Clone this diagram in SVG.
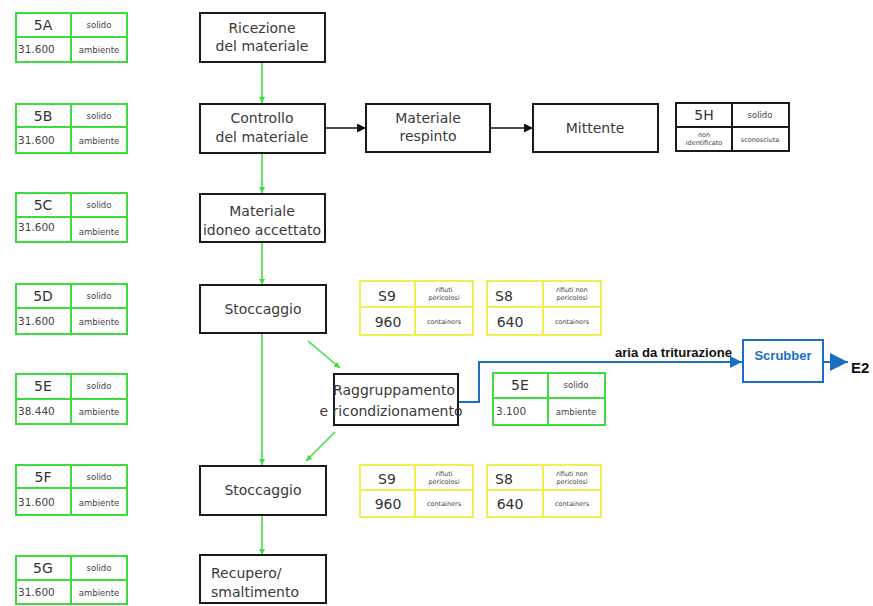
<svg xmlns="http://www.w3.org/2000/svg" width="873" height="606" viewBox="0 0 873 606">
  <style>
    .box { fill: #ffffff; stroke: #1a1a1a; stroke-width: 2; }
    .lbl { font-family: "DejaVu Sans", "Liberation Sans", sans-serif; font-size: 14px; fill: #3a3a3a; text-anchor: middle; }
    .lbl.left { text-anchor: start; }
    .tg rect, .tg line { stroke: #3fdc3f; stroke-width: 2; fill: none; }
    .ty rect, .ty line { stroke: #f0f050; stroke-width: 2; fill: none; }
    .tk rect, .tk line { stroke: #1a1a1a; stroke-width: 2; fill: none; }
    .id { font-family: "DejaVu Sans", "Liberation Sans", sans-serif; font-size: 14px; fill: #333333; text-anchor: middle; }
    .sm { font-family: "DejaVu Sans", "Liberation Sans", sans-serif; font-size: 8.5px; fill: #444444; text-anchor: middle; }
    .xs { font-family: "DejaVu Sans", "Liberation Sans", sans-serif; font-size: 6.5px; fill: #444444; text-anchor: middle; }
    .num { font-family: "DejaVu Sans", "Liberation Sans", sans-serif; font-size: 10.5px; fill: #444444; }
    .gflow { stroke: #44dd44; stroke-width: 1.6; fill: none; marker-end: url(#ag); }
    .kflow { stroke: #111111; stroke-width: 1.6; fill: none; marker-end: url(#ak); }
    .bflow { stroke: #1a6fc4; stroke-width: 2; fill: none; }
  </style>
  <defs>
    <marker id="ag" viewBox="0 0 10 10" refX="10" refY="5" markerWidth="6" markerHeight="6" orient="auto" markerUnits="userSpaceOnUse">
      <path d="M0,0 L10,5 L0,10 z" fill="#44dd44"/>
    </marker>
    <marker id="ak" viewBox="0 0 10 10" refX="10" refY="5" markerWidth="9" markerHeight="9" orient="auto" markerUnits="userSpaceOnUse">
      <path d="M0,0 L10,5 L0,10 z" fill="#111111"/>
    </marker>
    <marker id="ab" viewBox="0 0 10 10" refX="10" refY="5" markerWidth="12" markerHeight="12" orient="auto" markerUnits="userSpaceOnUse">
      <path d="M0,0 L10,5 L0,10 z" fill="#1a6fc4"/>
    </marker>
    <marker id="ab2" viewBox="0 0 10 10" refX="10" refY="5" markerWidth="18" markerHeight="18" orient="auto" markerUnits="userSpaceOnUse">
      <path d="M0,0 L10,5 L0,10 z" fill="#1a6fc4"/>
    </marker>
  </defs>

  <rect width="873" height="606" fill="#ffffff"/>

  <!-- connectors -->
  <g id="connectors">
    <line class="gflow" x1="262" y1="62" x2="262" y2="103"/>
    <line class="gflow" x1="262" y1="153" x2="262" y2="193"/>
    <line class="gflow" x1="262" y1="242" x2="262" y2="285"/>
    <line class="gflow" x1="262" y1="333" x2="262" y2="465"/>
    <line class="gflow" x1="262" y1="515" x2="262" y2="555"/>
    <line class="gflow" x1="308" y1="341" x2="340" y2="368"/>
    <line class="gflow" x1="335" y1="432" x2="306" y2="461"/>
    <line class="kflow" x1="325" y1="128" x2="366" y2="128"/>
    <line class="kflow" x1="490" y1="128" x2="533" y2="128"/>
    <polyline class="bflow" points="458,402 479,402 479,362 742,362" marker-end="url(#ab)"/>
    <line class="bflow" x1="823" y1="362" x2="848" y2="362" marker-end="url(#ab2)"/>
    <text x="615" y="357" font-family="Liberation Sans, Arial, sans-serif" font-size="12.5" font-weight="bold" fill="#111111" textLength="117" lengthAdjust="spacingAndGlyphs">aria da triturazione</text>
  </g>

  <!-- process steps -->
  <g id="ricezione">
    <rect class="box" x="200" y="13" width="125" height="49"/>
    <text class="lbl" x="262" y="33">Ricezione</text>
    <text class="lbl" x="262" y="51">del materiale</text>
  </g>
  <g id="controllo">
    <rect class="box" x="200" y="104" width="125" height="49"/>
    <text class="lbl" x="262" y="123">Controllo</text>
    <text class="lbl" x="262" y="142">del materiale</text>
  </g>
  <g id="idoneo">
    <rect class="box" x="200" y="194" width="125" height="48"/>
    <text class="lbl" x="262" y="216">Materiale</text>
    <text class="lbl" x="262" y="235">idoneo accettato</text>
  </g>
  <g id="stoccaggio1">
    <rect class="box" x="200" y="285" width="126" height="48"/>
    <text class="lbl" x="263" y="314">Stoccaggio</text>
  </g>
  <g id="raggruppamento">
    <rect class="box" x="334" y="374" width="124" height="51"/>
    <text class="lbl" x="394" y="395">Raggruppamento</text>
    <text class="lbl" x="391" y="416">e ricondizionamento</text>
  </g>
  <g id="stoccaggio2">
    <rect class="box" x="200" y="466" width="126" height="49"/>
    <text class="lbl" x="263" y="495">Stoccaggio</text>
  </g>
  <g id="recupero">
    <rect class="box" x="200" y="555" width="126" height="48"/>
    <text class="lbl left" x="211" y="578">Recupero/</text>
    <text class="lbl left" x="211" y="597">smaltimento</text>
  </g>
  <g id="respinto">
    <rect class="box" x="366" y="104" width="124" height="48"/>
    <text class="lbl" x="428" y="123">Materiale</text>
    <text class="lbl" x="428" y="141">respinto</text>
  </g>
  <g id="mittente">
    <rect class="box" x="533" y="104" width="125" height="48"/>
    <text class="lbl" x="595" y="133">Mittente</text>
  </g>
  <g id="scrubber">
    <rect x="743" y="340" width="80" height="42" fill="#ffffff" stroke="#1a6fc4" stroke-width="2"/>
    <text x="783" y="360" font-family="Liberation Sans, Arial, sans-serif" font-size="13" font-weight="bold" fill="#1a6fc4" text-anchor="middle">Scrubber</text>
  </g>
  <g id="e2">
    <text x="851" y="373" font-family="Liberation Sans, Arial, sans-serif" font-size="15" font-weight="bold" fill="#111111">E2</text>
  </g>

  <!-- codes tables, left column -->
  <g id="t5A" class="tg">
    <rect x="16" y="13" width="111" height="49"/><line x1="71" y1="13" x2="71" y2="62"/><line x1="16" y1="37" x2="127" y2="37"/>
    <text class="id" x="43" y="30">5A</text><text class="sm" x="99" y="28">solido</text>
    <text class="num" x="18" y="53">31.600</text><text class="sm" x="99" y="53">ambiente</text>
  </g>
  <g id="t5B" class="tg">
    <rect x="16" y="104" width="111" height="49"/><line x1="71" y1="104" x2="71" y2="153"/><line x1="16" y1="127" x2="127" y2="127"/>
    <text class="id" x="43" y="121">5B</text><text class="sm" x="99" y="119">solido</text>
    <text class="num" x="18" y="144">31.600</text><text class="sm" x="99" y="144">ambiente</text>
  </g>
  <g id="t5C" class="tg">
    <rect x="16" y="193" width="111" height="49"/><line x1="71" y1="193" x2="71" y2="242"/><line x1="16" y1="217" x2="127" y2="217"/>
    <text class="id" x="43" y="210">5C</text><text class="sm" x="99" y="208">solido</text>
    <text class="num" x="18" y="231">31.600</text><text class="sm" x="99" y="235">ambiente</text>
  </g>
  <g id="t5D" class="tg">
    <rect x="16" y="284" width="111" height="50"/><line x1="71" y1="284" x2="71" y2="334"/><line x1="16" y1="308" x2="127" y2="308"/>
    <text class="id" x="43" y="301">5D</text><text class="sm" x="99" y="299">solido</text>
    <text class="num" x="18" y="325">31.600</text><text class="sm" x="99" y="325">ambiente</text>
  </g>
  <g id="t5E" class="tg">
    <rect x="16" y="374" width="111" height="50"/><line x1="71" y1="374" x2="71" y2="424"/><line x1="16" y1="399" x2="127" y2="399"/>
    <text class="id" x="43" y="391">5E</text><text class="sm" x="99" y="389">solido</text>
    <text class="num" x="18" y="415">38.440</text><text class="sm" x="99" y="415">ambiente</text>
  </g>
  <g id="t5F" class="tg">
    <rect x="16" y="465" width="111" height="50"/><line x1="71" y1="465" x2="71" y2="515"/><line x1="16" y1="488" x2="127" y2="488"/>
    <text class="id" x="43" y="482">5F</text><text class="sm" x="99" y="480">solido</text>
    <text class="num" x="18" y="506">31.600</text><text class="sm" x="99" y="506">ambiente</text>
  </g>
  <g id="t5G" class="tg">
    <rect x="16" y="556" width="111" height="48"/><line x1="71" y1="556" x2="71" y2="604"/><line x1="16" y1="580" x2="127" y2="580"/>
    <text class="id" x="43" y="573">5G</text><text class="sm" x="99" y="571">solido</text>
    <text class="num" x="18" y="596">31.600</text><text class="sm" x="99" y="596">ambiente</text>
  </g>

  <!-- codes table, rejected material -->
  <g id="t5H" class="tk">
    <rect x="676" y="103" width="113" height="48"/><line x1="732" y1="103" x2="732" y2="151"/><line x1="676" y1="127" x2="789" y2="127"/>
    <text class="id" x="704" y="120">5H</text><text class="sm" x="760" y="118">solido</text>
    <text class="xs" x="704" y="137">non</text><text class="xs" x="704" y="145">identificato</text>
    <text class="xs" x="760" y="142">sconosciuta</text>
  </g>

  <!-- codes table, regrouping -->
  <g id="t5E2" class="tg">
    <rect x="493" y="373" width="112" height="52"/><line x1="548" y1="373" x2="548" y2="425"/><line x1="493" y1="398" x2="605" y2="398"/>
    <text class="id" x="520" y="390">5E</text><text class="sm" x="576" y="388">solido</text>
    <text class="num" x="496" y="415">3.100</text><text class="sm" x="576" y="415">ambiente</text>
  </g>

  <!-- storage capacity tables -->
  <g id="tS9a" class="ty">
    <rect x="360" y="281" width="113" height="54"/><line x1="415" y1="281" x2="415" y2="335"/><line x1="360" y1="307" x2="473" y2="307"/>
    <text class="id" x="387" y="301">S9</text><text class="xs" x="444" y="292">rifiuti</text><text class="xs" x="444" y="300">pericolosi</text>
    <text class="id" x="388" y="327">960</text><text class="xs" x="444" y="324">containers</text>
  </g>
  <g id="tS8a" class="ty">
    <rect x="487" y="281" width="114" height="54"/><line x1="543" y1="281" x2="543" y2="335"/><line x1="487" y1="307" x2="601" y2="307"/>
    <text class="id" x="504" y="301">S8</text><text class="xs" x="572" y="292">rifiuti non</text><text class="xs" x="572" y="300">pericolosi</text>
    <text class="id" x="510" y="327">640</text><text class="xs" x="572" y="324">containers</text>
  </g>
  <g id="tS9b" class="ty">
    <rect x="360" y="465" width="113" height="52"/><line x1="415" y1="465" x2="415" y2="517"/><line x1="360" y1="490" x2="473" y2="490"/>
    <text class="id" x="387" y="484">S9</text><text class="xs" x="444" y="476">rifiuti</text><text class="xs" x="444" y="484">pericolosi</text>
    <text class="id" x="388" y="509">960</text><text class="xs" x="444" y="506">containers</text>
  </g>
  <g id="tS8b" class="ty">
    <rect x="487" y="465" width="114" height="52"/><line x1="543" y1="465" x2="543" y2="517"/><line x1="487" y1="490" x2="601" y2="490"/>
    <text class="id" x="504" y="484">S8</text><text class="xs" x="572" y="476">rifiuti non</text><text class="xs" x="572" y="484">pericolosi</text>
    <text class="id" x="510" y="509">640</text><text class="xs" x="572" y="506">containers</text>
  </g>
</svg>
